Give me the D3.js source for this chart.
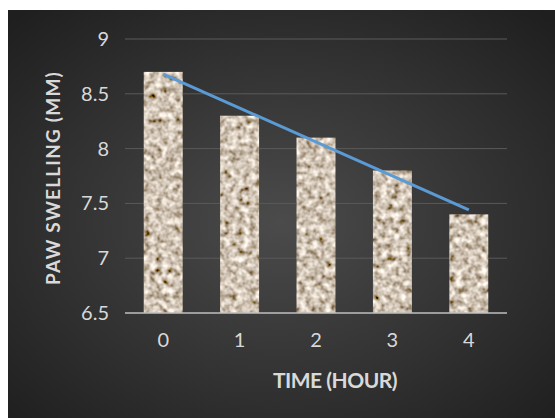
<!DOCTYPE html>
<html>
<head>
<meta charset="utf-8">
<script src="https://cdn.jsdelivr.net/npm/d3@7"></script>
<style>
  body { margin: 0; background: #fff; }
  text { font-family: Lato, "Open Sans", sans-serif; }
</style>
</head>
<body>
<div id="chart"></div>
<script>
var hours = ["0", "1", "2", "3", "4"];
var swelling = [8.7, 8.3, 8.1, 7.8, 7.4];
var yTicks = [6.5, 7, 7.5, 8, 8.5, 9];

function init() {
    var w = 555, h = 418;
    var left = 125, right = 507, top = 39, bottom = 313;

    var svg = d3.select("#chart")
                .append("svg")
                .attr("width", w)
                .attr("height", h);

    var defs = svg.append("defs");

    var bg = defs.append("radialGradient")
                 .attr("id", "bg")
                 .attr("cx", "50%").attr("cy", "52%").attr("r", "70%");
    bg.append("stop").attr("offset", "0%").attr("stop-color", "#4b4b4b");
    bg.append("stop").attr("offset", "100%").attr("stop-color", "#1f1f1f");

    // granite-ish texture for the bars
    var f = defs.append("filter").attr("id", "stone")
                .attr("x", 0).attr("y", 0).attr("width", 1).attr("height", 1);
    f.append("feTurbulence")
     .attr("type", "fractalNoise")
     .attr("baseFrequency", "0.16")
     .attr("numOctaves", 2)
     .attr("seed", 7)
     .attr("result", "noise");
    f.append("feColorMatrix")
     .attr("in", "noise")
     .attr("type", "matrix")
     .attr("values", "1.3 0.6 0 0 -0.32  1.3 0.6 0 0 -0.40  1.3 0.6 0 0 -0.49  0 0 0 0 1")
     .attr("result", "col");
    f.append("feComposite")
     .attr("in", "col").attr("in2", "SourceGraphic").attr("operator", "in");

    svg.append("rect")
       .attr("x", 8).attr("y", 10)
       .attr("width", w - 8).attr("height", h - 10)
       .attr("fill", "url(#bg)");

    var x = d3.scaleBand()
              .domain(hours)
              .range([left, right])
              .paddingInner(0.49)
              .paddingOuter(0.245);

    var y = d3.scaleLinear()
              .domain([6.5, 9])
              .range([bottom, top]);

    // gridlines
    svg.append("g")
       .selectAll("line")
       .data(yTicks.slice(1))
       .enter()
       .append("line")
       .attr("x1", left).attr("x2", right)
       .attr("y1", function(d) { return y(d); })
       .attr("y2", function(d) { return y(d); })
       .attr("stroke", "#5a5a5a")
       .attr("stroke-width", 1);

    // bars
    svg.append("g")
       .selectAll("rect")
       .data(swelling)
       .enter()
       .append("rect")
       .attr("x", function(d, i) { return x(hours[i]); })
       .attr("y", function(d) { return y(d); })
       .attr("width", x.bandwidth())
       .attr("height", function(d) { return bottom - y(d); })
       .attr("fill", "#b3a592")
       .attr("filter", "url(#stone)");

    // baseline
    svg.append("line")
       .attr("x1", left).attr("x2", right)
       .attr("y1", bottom).attr("y2", bottom)
       .attr("stroke", "#bfbfbf")
       .attr("stroke-width", 1.5);

    // linear trendline
    var n = swelling.length;
    var mx = d3.mean(swelling, function(d, i) { return i; });
    var my = d3.mean(swelling);
    var sxy = d3.sum(swelling, function(d, i) { return (i - mx) * (d - my); });
    var sxx = d3.sum(swelling, function(d, i) { return (i - mx) * (i - mx); });
    var slope = sxy / sxx;
    var trend = [0, n - 1].map(function(i) { return [i, my + slope * (i - mx)]; });

    var line = d3.line()
                 .x(function(d) { return x(hours[d[0]]) + x.bandwidth() / 2; })
                 .y(function(d) { return y(d[1]); });

    svg.append("path")
       .attr("d", line(trend))
       .attr("fill", "none")
       .attr("stroke", "#5b9bd5")
       .attr("stroke-width", 3);

    // axes
    var yAxis = svg.append("g")
                   .attr("transform", "translate(" + left + ",0)")
                   .call(d3.axisLeft(y).tickValues(yTicks).tickSize(0).tickPadding(16)
                           .tickFormat(d3.format("")));
    yAxis.select(".domain").remove();
    yAxis.selectAll("text")
         .attr("fill", "#d9d9d9")
         .attr("font-size", "20px");

    var xAxis = svg.append("g")
                   .attr("transform", "translate(0," + bottom + ")")
                   .call(d3.axisBottom(x).tickSize(0).tickPadding(20));
    xAxis.select(".domain").remove();
    xAxis.selectAll("text")
         .attr("fill", "#d9d9d9")
         .attr("font-size", "20px");

    svg.append("text")
       .attr("x", 335)
       .attr("y", 388)
       .attr("text-anchor", "middle")
       .attr("fill", "#d9d9d9")
       .attr("font-weight", "bold")
       .attr("font-size", "21px")
       .attr("letter-spacing", "-0.5px")
       .text("TIME (HOUR)");

    svg.append("text")
       .attr("transform", "translate(60,178) rotate(-90)")
       .attr("text-anchor", "middle")
       .attr("fill", "#d9d9d9")
       .attr("font-weight", "bold")
       .attr("font-size", "19px")
       .attr("letter-spacing", "1.2px")
       .text("PAW SWELLING (MM)");
}
window.onload = init;
</script>
</body>
</html>
